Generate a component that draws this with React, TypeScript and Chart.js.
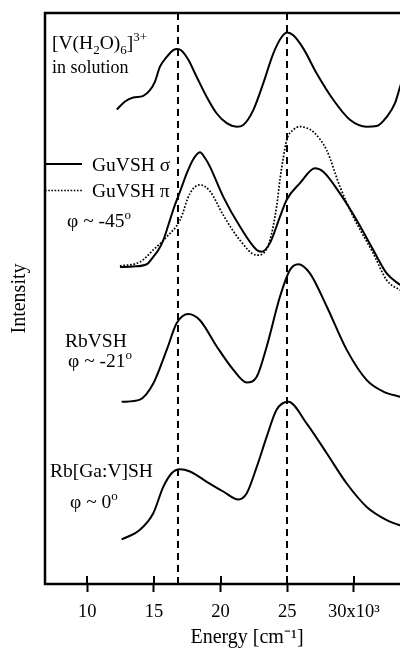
import React, { useEffect, useRef } from "react";
import { Chart, registerables } from "chart.js";

Chart.register(...registerables);

// ---- data (energy in 10^3 cm^-1, intensity in arbitrary units with vertical offsets) ----
const solutionEnergy = [12.21, 12.83, 13.45, 14.2, 14.7, 15.08, 15.45, 15.96, 16.45, 16.75, 17.08, 17.58, 18.21, 18.96, 19.71, 20.46, 21.21, 21.7, 22.45, 23.2, 23.95, 24.58, 25.0, 25.45, 26.2, 27.21, 28.45, 29.7, 30.96, 31.71, 32.46, 33.08, 33.45, 33.8];
const solutionIntensity = [83.1, 84.5, 85.2, 85.5, 86.5, 88.0, 90.6, 92.3, 93.5, 93.7, 93.4, 91.8, 88.8, 85.3, 82.4, 80.7, 80.1, 80.4, 83.0, 87.7, 92.9, 95.8, 96.6, 96.1, 93.8, 89.4, 84.8, 81.3, 80.1, 80.2, 81.8, 84.2, 87.0, 89.5];

const guSigmaEnergy = [12.45, 13.43, 14.46, 14.95, 15.33, 15.7, 16.1, 16.5, 17.0, 17.46, 17.93, 18.45, 18.83, 19.2, 20.2, 21.45, 22.71, 23.08, 23.7, 24.45, 24.96, 25.95, 27.08, 27.7, 28.95, 30.21, 31.45, 32.46, 33.45, 33.8];
const guSigmaIntensity = [55.5, 55.6, 56.0, 57.3, 58.5, 60.2, 63.0, 65.9, 69.0, 71.9, 74.3, 75.6, 74.6, 73.1, 67.8, 62.6, 58.5, 58.2, 59.7, 64.3, 67.3, 70.2, 72.8, 72.2, 68.4, 63.7, 58.5, 54.4, 52.4, 51.8];

const guPiEnergy = [12.45, 13.95, 14.95, 15.96, 16.95, 17.7, 18.45, 19.2, 20.2, 21.45, 22.71, 23.2, 23.7, 24.2, 24.45, 24.7, 24.96, 25.43, 25.95, 26.4, 26.95, 27.95, 28.95, 29.95, 31.45, 32.46, 33.45, 33.8];
const guPiIntensity = [55.7, 56.4, 58.5, 60.8, 63.7, 68.4, 69.9, 68.8, 64.6, 60.2, 57.6, 57.9, 60.2, 66.1, 70.8, 74.6, 77.8, 79.5, 80.1, 79.9, 79.2, 76.0, 69.6, 64.3, 57.9, 53.2, 51.5, 51.0];

const rbEnergy = [12.58, 13.95, 14.95, 15.96, 16.71, 17.58, 18.45, 19.71, 20.96, 21.96, 22.71, 23.46, 24.45, 25.2, 25.83, 26.7, 27.96, 29.46, 30.96, 32.2, 33.45, 33.8];
const rbIntensity = [31.9, 32.3, 35.1, 41.0, 45.7, 47.3, 46.2, 41.6, 37.5, 35.3, 36.3, 41.6, 50.3, 55.0, 56.0, 54.4, 48.6, 41.0, 35.7, 33.7, 32.8, 32.6];

const rbGaEnergy = [12.58, 13.95, 14.95, 15.7, 16.33, 16.95, 17.7, 18.96, 20.2, 21.33, 21.96, 22.71, 23.46, 24.2, 25.08, 26.46, 27.96, 29.46, 30.96, 32.46, 33.45, 33.8];
const rbGaIntensity = [7.8, 9.5, 12.4, 17.0, 19.4, 20.1, 19.7, 17.9, 16.2, 14.8, 15.9, 20.5, 25.8, 30.5, 31.9, 28.1, 22.9, 17.6, 13.5, 11.2, 10.3, 10.1];

const markerEnergies = [16.8, 25.0];
const tickValues = [10, 15, 20, 25, 30];
const tickLabels = ["10", "15", "20", "25", "30x10³"];

const FONT = '"Liberation Serif", "Times New Roman", serif';
const FS = 19.5;

type Part = [string, "n" | "sub" | "sup"];

function drawRich(ctx: CanvasRenderingContext2D, x: number, y: number, parts: Part[], size = FS) {
  let cx = x;
  for (const [t, k] of parts) {
    if (k === "n") {
      ctx.font = `${size}px ${FONT}`;
      ctx.fillText(t, cx, y);
    } else if (k === "sub") {
      ctx.font = `${Math.round(size * 0.66)}px ${FONT}`;
      ctx.fillText(t, cx, y + 5);
    } else {
      ctx.font = `${Math.round(size * 0.66)}px ${FONT}`;
      ctx.fillText(t, cx, y - 8);
    }
    cx += ctx.measureText(t).width;
  }
}

function toPoints(xs: number[], ys: number[]) {
  return xs.map((x, i) => ({ x, y: ys[i] }));
}

const overlay = {
  id: "overlay",
  beforeDatasetsDraw(chart: any) {
    const { ctx, chartArea, scales } = chart;
    const x = scales.x;
    ctx.save();
    ctx.strokeStyle = "#000";
    ctx.lineWidth = 2;
    ctx.setLineDash([7, 5]);
    for (const e of markerEnergies) {
      const px = Math.round(x.getPixelForValue(e));
      ctx.beginPath();
      ctx.moveTo(px, chartArea.top);
      ctx.lineTo(px, chartArea.bottom);
      ctx.stroke();
    }
    ctx.restore();
  },
  afterDatasetsDraw(chart: any) {
    const { ctx, chartArea, scales } = chart;
    const x = scales.x;
    ctx.save();
    ctx.strokeStyle = "#000";
    ctx.lineWidth = 2.5;
    ctx.setLineDash([]);
    ctx.beginPath();
    ctx.moveTo(chartArea.right, chartArea.top);
    ctx.lineTo(chartArea.left, chartArea.top);
    ctx.lineTo(chartArea.left, chartArea.bottom);
    ctx.lineTo(chartArea.right, chartArea.bottom);
    ctx.lineTo(chartArea.right, chartArea.top);
    ctx.stroke();
    // inner halves of tick marks
    ctx.lineWidth = 2;
    for (const v of tickValues) {
      const px = Math.round(x.getPixelForValue(v));
      ctx.beginPath();
      ctx.moveTo(px, chartArea.bottom - 8);
      ctx.lineTo(px, chartArea.bottom);
      ctx.stroke();
    }
    // legend lines
    ctx.lineWidth = 2;
    ctx.beginPath();
    ctx.moveTo(chartArea.left, 164);
    ctx.lineTo(82, 164);
    ctx.stroke();
    ctx.lineWidth = 1.6;
    ctx.setLineDash([1.6, 1.6]);
    ctx.beginPath();
    ctx.moveTo(chartArea.left, 190.5);
    ctx.lineTo(82, 190.5);
    ctx.stroke();
    ctx.setLineDash([]);

    ctx.fillStyle = "#000";
    ctx.textBaseline = "alphabetic";
    ctx.textAlign = "left";
    drawRich(ctx, 52, 49, [["[V(H", "n"], ["2", "sub"], ["O)", "n"], ["6", "sub"], ["]", "n"], ["3+", "sup"]]);
    drawRich(ctx, 52, 73, [["in solution", "n"]], 18);
    drawRich(ctx, 92, 171, [["GuVSH σ", "n"]]);
    drawRich(ctx, 92, 197, [["GuVSH π", "n"]]);
    drawRich(ctx, 67, 227, [["φ ~ -45", "n"], ["o", "sup"]]);
    drawRich(ctx, 65, 347, [["RbVSH", "n"]]);
    drawRich(ctx, 68, 367, [["φ ~ -21", "n"], ["o", "sup"]]);
    drawRich(ctx, 50, 477, [["Rb[Ga:V]SH", "n"]]);
    drawRich(ctx, 70, 508, [["φ ~ 0", "n"], ["o", "sup"]]);
    ctx.restore();
  },
};

function lineDs(label: string, xs: number[], ys: number[], dotted = false) {
  return {
    label,
    data: toPoints(xs, ys),
    borderColor: "#000",
    backgroundColor: "#000",
    borderWidth: dotted ? 1.7 : 2,
    borderDash: dotted ? [1.7, 1.7] : [],
    pointRadius: 0,
    fill: false,
    cubicInterpolationMode: "monotone" as const,
    tension: 0.4,
  };
}

export default function App() {
  const ref = useRef<HTMLCanvasElement | null>(null);
  useEffect(() => {
    if (!ref.current) return;
    const chart = new Chart(ref.current, {
      type: "line",
      data: {
        datasets: [
          lineDs("[V(H2O)6]3+ in solution", solutionEnergy, solutionIntensity),
          lineDs("GuVSH σ", guSigmaEnergy, guSigmaIntensity),
          lineDs("GuVSH π", guPiEnergy, guPiIntensity, true),
          lineDs("RbVSH", rbEnergy, rbIntensity),
          lineDs("Rb[Ga:V]SH", rbGaEnergy, rbGaIntensity),
        ],
      },
      options: {
        responsive: false,
        animation: false,
        maintainAspectRatio: false,
        layout: { padding: { top: 13, left: 0, right: 1, bottom: 0 } },
        plugins: { legend: { display: false }, tooltip: { enabled: false } },
        scales: {
          x: {
            type: "linear",
            min: 6.83,
            max: 37.13,
            afterBuildTicks: (s: any) => {
              s.ticks = tickValues.map((v) => ({ value: v }));
            },
            afterFit: (s: any) => {
              s.height = 64;
            },
            border: { display: false },
            grid: {
              display: true,
              drawOnChartArea: false,
              drawTicks: true,
              tickLength: 8,
              tickWidth: 2,
              tickColor: "#000",
            },
            ticks: {
              padding: 9,
              color: "#000",
              font: { family: FONT, size: 18.5 },
              maxRotation: 0,
              autoSkip: false,
              callback: (v: any) => {
                const i = tickValues.indexOf(Number(v));
                return i >= 0 ? tickLabels[i] : "";
              },
            },
            title: {
              display: true,
              text: "Energy [cm⁻¹]",
              color: "#000",
              font: { family: FONT, size: 20, lineHeight: 1 },
              padding: { top: 0, bottom: 0 },
            },
          },
          y: {
            type: "linear",
            min: 0,
            max: 100,
            afterFit: (s: any) => {
              s.width = 45;
            },
            border: { display: false },
            grid: { display: false },
            ticks: { display: false },
            title: {
              display: true,
              text: "Intensity",
              color: "#000",
              font: { family: FONT, size: 20, lineHeight: 1 },
              padding: { top: 10, bottom: 0 },
            },
          },
        },
      },
      plugins: [overlay],
    });
    return () => chart.destroy();
  }, []);
  return (
    <div style={{ position: "fixed", left: 0, top: 0, width: 400, height: 648, overflow: "hidden", background: "#fff" }}>
      <canvas ref={ref} width={450} height={648} style={{ display: "block" }} />
    </div>
  );
}
